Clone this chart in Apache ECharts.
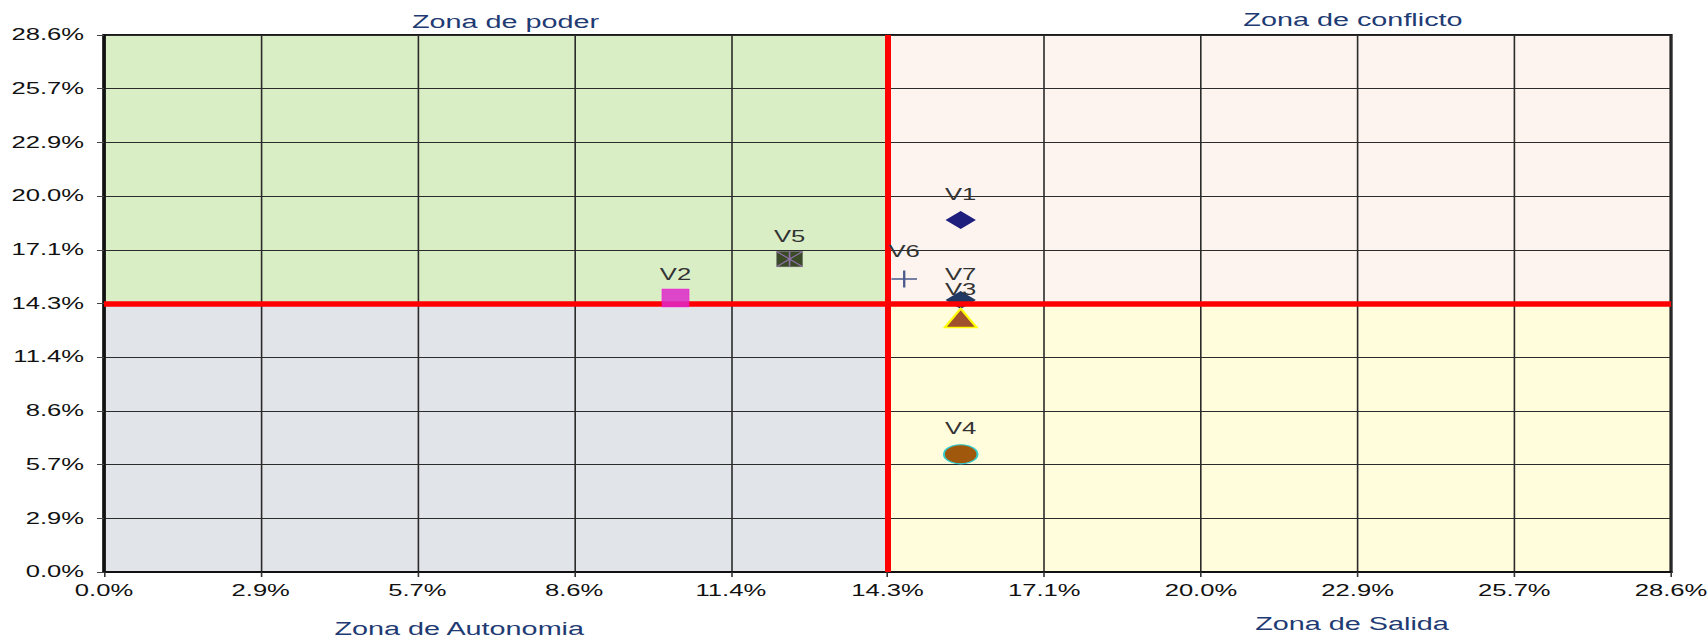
<!DOCTYPE html>
<html>
<head>
<meta charset="utf-8">
<script src="https://cdn.jsdelivr.net/npm/echarts@6/dist/echarts.min.js"></script>
<style>
html,body{margin:0;padding:0;background:#fff;overflow:hidden;width:1707px;height:638px;}
#chart{width:1067px;height:638px;transform:scaleX(1.6);transform-origin:0 0;}
</style>
</head>
<body>
<div id="chart"></div>
<script>
// ---- data (values in percent) ----
const pointNames = ['V1', 'V2', 'V3', 'V4', 'V5', 'V6', 'V7'];
const xValues = [15.62, 10.42, 15.62, 15.62, 12.50, 14.59, 15.62];
const yValues = [18.73, 14.58, 13.51, 6.26, 16.65, 15.59, 14.47];
const xTickLabels = ['0.0%', '2.9%', '5.7%', '8.6%', '11.4%', '14.3%', '17.1%', '20.0%', '22.9%', '25.7%', '28.6%'];
const yTickLabels = ['0.0%', '2.9%', '5.7%', '8.6%', '11.4%', '14.3%', '17.1%', '20.0%', '22.9%', '25.7%', '28.6%'];
const thresholdPct = 100 / 7;          // 14.3 %
const axisMaxPct = 200 / 7;            // 28.6 %
const zoneNames = ['Zona de poder', 'Zona de conflicto', 'Zona de Autonomia', 'Zona de Salida'];

// one axis step = 1/35 = 2.857 %; axis runs in steps 0..10
const STEP = 100 / 35;
const u = p => p / STEP;

const FONT = "'Liberation Sans', Arial, sans-serif";

const markerStyles = {
  V1: {symbol: 'diamond', size: [19, 18], color: '#1E1E7C', border: '#1E1E7C', bw: 0, dist: 8, z: 6},
  V2: {symbol: 'rect', size: [17, 18], color: 'rgba(221,40,200,0.85)', border: 'rgba(255,0,220,0.6)', bw: 0.5, dist: 6, z: 6},
  V3: {symbol: 'triangle', size: [20, 19], color: '#A0522D', border: '#FFFF00', bw: 1.5, dist: 10, z: 6},
  V4: {symbol: 'circle', size: [21, 19], color: '#A0590C', border: '#33CCCC', bw: 1.2, dist: 8, z: 6},
  V5: {symbol: 'rect', size: [16, 15], color: '#3A4A27', border: '#555555', bw: 0.5, dist: 7, z: 6,
       overlay: 'path://M0,0L16,15M16,0L0,15M8,0L8,15', overlayColor: '#8E72A8'},
  V6: {symbol: 'path://M0,8L16,8M8,0L8,16', size: [16, 17], color: 'none', border: '#4A5A8C', bw: 1.5, dist: 8, z: 6},
  V7: {symbol: 'diamond', size: [19, 18], color: '#1F3864', border: '#1F3864', bw: 0, dist: 8, z: 3}
};

const zoneColors = {green: '#DAEEC6', pink: '#FDF4EF', gray: '#E1E4E9', yellow: '#FFFDDC'};

const chart = echarts.init(document.getElementById('chart'), null, {renderer: 'svg'});

const pointSeries = [];
pointNames.forEach((n, i) => {
  const s = markerStyles[n];
  const pt = [u(xValues[i]), u(yValues[i])];
  pointSeries.push({
    type: 'scatter', name: n, z: s.z, silent: true, animation: false, clip: false,
    symbol: s.symbol, symbolSize: s.size,
    data: [pt],
    itemStyle: {color: s.color, borderColor: s.border, borderWidth: s.bw, opacity: 1},
    label: {show: true, position: 'top', distance: s.dist, formatter: n,
            color: '#333333', fontSize: 16, fontFamily: FONT}
  });
  if (s.overlay) {
    pointSeries.push({
      type: 'scatter', z: s.z + 1, silent: true, animation: false, clip: false,
      symbol: s.overlay, symbolSize: s.size, data: [pt],
      itemStyle: {color: 'none', borderColor: s.overlayColor, borderWidth: 1, opacity: 1},
      label: {show: false}
    });
  }
});

const T = u(thresholdPct), M = u(axisMaxPct);

const option = {
  backgroundColor: '#ffffff',
  animation: false,
  grid: {left: 65, right: 22.6, top: 35, bottom: 66, show: true, z: 2,
         outerBoundsMode: 'none', containLabel: false,
         borderColor: '#1a1a1a', borderWidth: 2, backgroundColor: 'transparent'},
  xAxis: {
    type: 'value', min: 0, max: M, interval: 1, z: 2,
    axisLine: {show: true, onZero: false, lineStyle: {color: '#111111', width: 2}},
    axisTick: {show: true, length: 5, lineStyle: {color: '#333333'}},
    axisLabel: {formatter: v => xTickLabels[Math.round(v)], color: '#111111', fontSize: 16,
                fontFamily: FONT, margin: 11},
    splitLine: {show: true, lineStyle: {color: '#2b2b2b', width: 1}}
  },
  yAxis: {
    type: 'value', min: 0, max: M, interval: 1, z: 2,
    axisLine: {show: true, onZero: false, lineStyle: {color: '#111111', width: 2}},
    axisTick: {show: true, length: 4.4, lineStyle: {color: '#444444'}},
    axisLabel: {formatter: v => yTickLabels[Math.round(v)], color: '#111111', fontSize: 16,
                fontFamily: FONT, margin: 12.5},
    splitLine: {show: true, lineStyle: {color: '#2b2b2b', width: 1}}
  },
  graphic: [
    {type: 'text', x: 316, y: 22, style: {text: zoneNames[0], fill: '#1F3B73', fontSize: 18, fontFamily: FONT,
      align: 'center', verticalAlign: 'middle', textAlign: 'center', textVerticalAlign: 'middle'}},
    {type: 'text', x: 845.6, y: 20, style: {text: zoneNames[1], fill: '#1F3B73', fontSize: 18, fontFamily: FONT,
      align: 'center', verticalAlign: 'middle', textAlign: 'center', textVerticalAlign: 'middle'}},
    {type: 'text', x: 287, y: 629, style: {text: zoneNames[2], fill: '#1F3B73', fontSize: 18, fontFamily: FONT,
      align: 'center', verticalAlign: 'middle', textAlign: 'center', textVerticalAlign: 'middle'}},
    {type: 'text', x: 845, y: 624, style: {text: zoneNames[3], fill: '#1F3B73', fontSize: 18, fontFamily: FONT,
      align: 'center', verticalAlign: 'middle', textAlign: 'center', textVerticalAlign: 'middle'}}
  ],
  series: [
    {
      type: 'scatter', data: [], silent: true, z: 1,
      markArea: {
        silent: true, z: 1, label: {show: false},
        data: [
          [{xAxis: 0, yAxis: T, itemStyle: {color: zoneColors.green}}, {xAxis: T, yAxis: M}],
          [{xAxis: T, yAxis: T, itemStyle: {color: zoneColors.pink}}, {xAxis: M, yAxis: M}],
          [{xAxis: 0, yAxis: 0, itemStyle: {color: zoneColors.gray}}, {xAxis: T, yAxis: T}],
          [{xAxis: T, yAxis: 0, itemStyle: {color: zoneColors.yellow}}, {xAxis: M, yAxis: T}]
        ]
      }
    },
    {
      type: 'scatter', data: [], silent: true, z: 4,
      markLine: {
        silent: true, z: 4, symbol: 'none', animation: false, label: {show: false},
        data: [
          {xAxis: T, lineStyle: {color: '#FF0000', width: 3.75, type: 'solid'}},
          {yAxis: T, lineStyle: {color: '#FF0000', width: 5.5, type: 'solid'}}
        ]
      }
    }
  ].concat(pointSeries)
};

chart.setOption(option);
</script>
</body>
</html>
